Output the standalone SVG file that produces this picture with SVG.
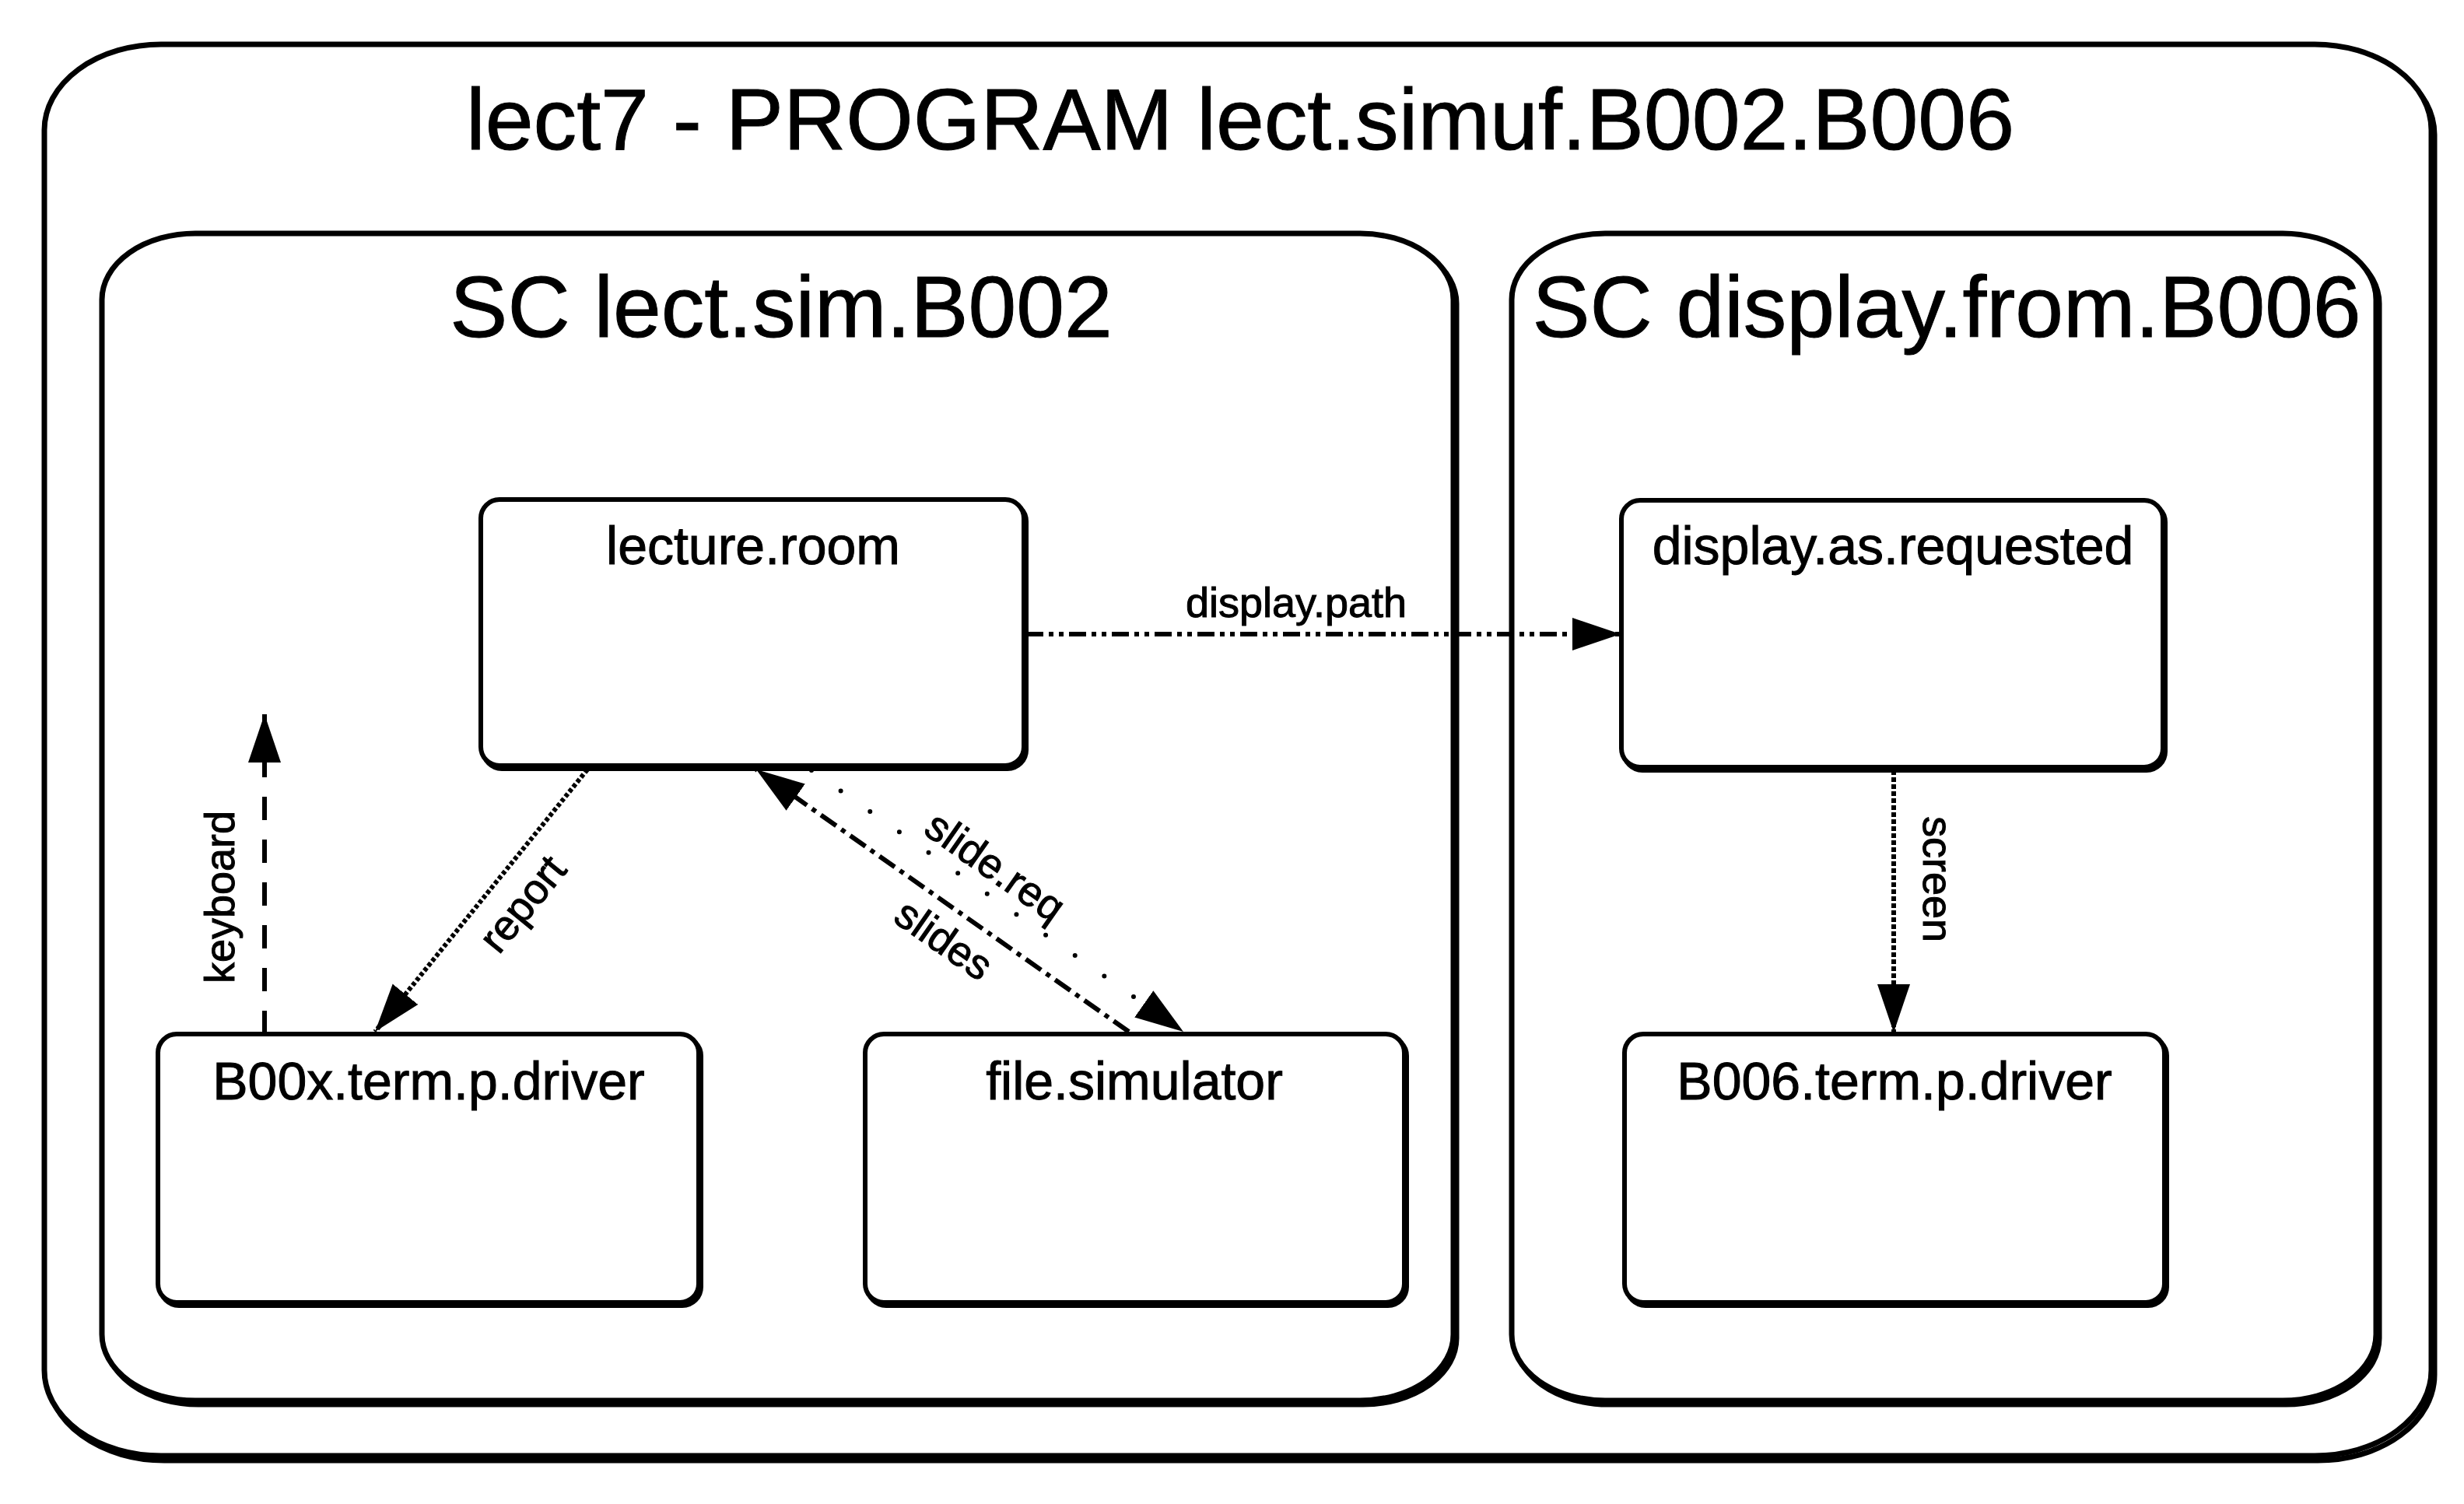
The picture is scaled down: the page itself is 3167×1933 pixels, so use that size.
<svg xmlns="http://www.w3.org/2000/svg" width="3167" height="1933" viewBox="0 0 3167 1933">
<style>
.frame{fill:#fff;stroke:#000;stroke-width:7}
.shadow{fill:none;stroke:#000;stroke-width:7}
.node{fill:#fff;stroke:#000;stroke-width:6}
.nshadow{fill:none;stroke:#000;stroke-width:6}
text{font-family:"Liberation Sans",Arial,sans-serif;fill:#000;stroke:#000;stroke-width:1}
.big{font-size:111px;text-anchor:middle}
.nl{font-size:68px;text-anchor:middle}
.cl{font-size:54px;text-anchor:middle}
.conn{fill:none;stroke:#000;stroke-width:6}
</style>
<defs>
<marker id="ah" markerUnits="userSpaceOnUse" markerWidth="64" markerHeight="46" refX="62" refY="23" orient="auto" viewBox="0 0 64 46">
<path d="M0,2 L62,23 L0,44 z" fill="#000"/>
</marker>
</defs>
<rect width="3167" height="1933" fill="#fff"/>

<g id="program">
<rect class="shadow" x="61" y="63" width="3068" height="1814" rx="150" ry="110"/>
<rect class="frame" x="57" y="57" width="3068" height="1814" rx="150" ry="110"/>
<text class="big" x="1594" y="192" textLength="1990" lengthAdjust="spacingAndGlyphs">lect7 - PROGRAM lect.simuf.B002.B006</text>
</g>

<g id="sc-lect-sim-B002">
<rect class="shadow" x="135" y="305" width="1737" height="1500" rx="120" ry="85"/>
<rect class="frame" x="131" y="300" width="1737" height="1500" rx="120" ry="85"/>
<text class="big" x="1004" y="433" font-size="110">SC lect.sim.B002</text>
</g>

<g id="sc-display-from-B006">
<rect class="shadow" x="1947" y="305" width="1111" height="1500" rx="120" ry="85"/>
<rect class="frame" x="1943" y="300" width="1111" height="1500" rx="120" ry="85"/>
<text class="big" x="2502" y="433" font-size="110">SC display.from.B006</text>
</g>

<g id="lecture-room">
<rect class="nshadow" x="621" y="646" width="698" height="342" rx="24"/>
<rect class="node" x="618" y="642" width="698" height="342" rx="24"/>
<text class="nl" x="968" y="725">lecture.room</text>
</g>

<g id="display-as-requested">
<rect class="nshadow" x="2087" y="647" width="696" height="343" rx="24"/>
<rect class="node" x="2084" y="643" width="696" height="343" rx="24"/>
<text class="nl" x="2433" y="725">display.as.requested</text>
</g>

<g id="B00x-term-p-driver">
<rect class="nshadow" x="206" y="1333" width="695" height="345" rx="24"/>
<rect class="node" x="203" y="1329" width="695" height="345" rx="24"/>
<text class="nl" x="551" y="1413">B00x.term.p.driver</text>
</g>

<g id="file-simulator">
<rect class="nshadow" x="1115" y="1333" width="693" height="345" rx="24"/>
<rect class="node" x="1112" y="1329" width="693" height="345" rx="24"/>
<text class="nl" x="1458" y="1413">file.simulator</text>
</g>

<g id="B006-term-p-driver">
<rect class="nshadow" x="2091" y="1333" width="694" height="345" rx="24"/>
<rect class="node" x="2088" y="1329" width="694" height="345" rx="24"/>
<text class="nl" x="2435" y="1413">B006.term.p.driver</text>
</g>

<g id="connectors">
<line class="conn" x1="340" y1="1329" x2="340" y2="918" stroke-dasharray="30 25" marker-end="url(#ah)"/>
<text class="cl" transform="translate(301,1153) rotate(-90)" y="0">keyboard</text>
<line class="conn" x1="755" y1="989" x2="482" y2="1326" stroke-dasharray="5 3" marker-end="url(#ah)"/>
<text class="cl" transform="translate(672,1162) rotate(-50.8)" y="18">report</text>
<line class="conn" x1="1451" y1="1326" x2="972" y2="989" stroke-dasharray="24 8 6 8" marker-end="url(#ah)"/>
<text class="cl" transform="translate(1213,1208) rotate(34.9)" y="18">slides</text>
<line class="conn" x1="1043" y1="990" x2="1521" y2="1326" stroke-width="11" stroke-linecap="round" stroke-dasharray="0 46" marker-end="url(#ah)"/>
<text class="cl" transform="translate(1279,1114) rotate(35)" y="18">slide.req</text>
<line class="conn" x1="1319" y1="815" x2="2083" y2="815" stroke-dasharray="22 7 6 7 6 7" marker-end="url(#ah)"/>
<text class="cl" x="1666" y="793">display.path</text>
<line class="conn" x1="2434" y1="990" x2="2434" y2="1327" stroke-dasharray="6 3" marker-end="url(#ah)"/>
<text class="cl" transform="translate(2472,1130) rotate(90)" y="0">screen</text>
</g>
</svg>
